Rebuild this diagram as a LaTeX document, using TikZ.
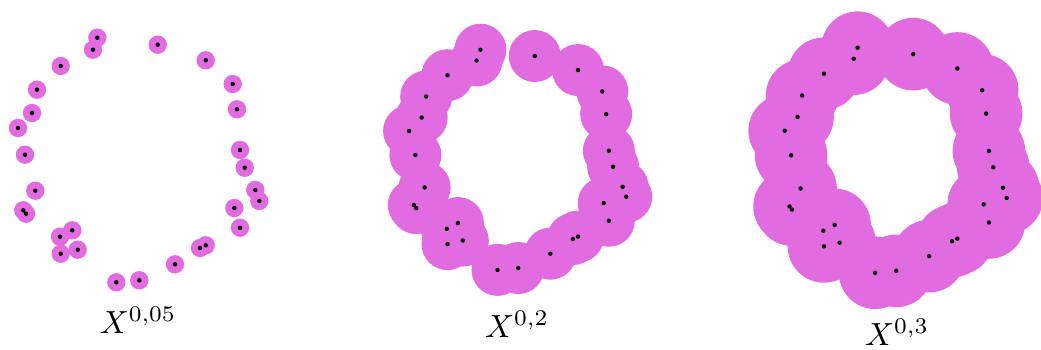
\documentclass[tikz,border=0pt]{standalone}
\usepackage{graphicx}
\definecolor{ballcol}{RGB}{224,108,224}
\tikzset{
  ball/.style={fill=ballcol},
  dot/.style={fill=black},
  lab/.style={anchor=base, inner sep=0pt}
}
\def\pts{-41.4/-122.3, -45.7/-110.3, 19/-115.3, -78/-94, 67/-99.7, -101.7/-70.3, 94/-76, -106.7/-47, 98.3/-50.7, -120.7/-32, -113.7/-5.3, 101.3/-10, 106/7.7, -103.4/30.7, 116.6/30, 120.6/41, -115.4/50.3, -112.7/53.7, 95.6/48, 101.3/67.7, -66.4/70.3, -78.7/76.7, -61/89.7, -78/93.7, 67/85.3, 61.3/88, 36.3/104.3, 0.6/120.3, -22.4/122.3}
\begin{document}
\begin{tikzpicture}[x=1pt,y=-1pt]
\useasboundingbox (0,0) rectangle (1041,350);
% panel data: cx, cy, scale, ball radius
\foreach \cx/\cy/\s/\r in {138.7/160/1/9.2, 517.7/159.8/0.9/26, 895.7/160.2/0.92/36.3}{
  \foreach \x/\y in \pts {
    \fill[ball] ({\cx+\s*\x},{\cy+\s*\y}) circle[radius=\r];
  }
  \foreach \x/\y in \pts {
    \fill[dot] ({\cx+\s*\x},{\cy+\s*\y}) circle[radius=2.2];
  }
}
\node[lab] (lab1) at (138,333) {\scalebox{3.2}{$X^{0,05}$}};
\node[lab] (lab2) at (517,337.5) {\scalebox{3.2}{$X^{0,2}$}};
\node[lab] (lab3) at (897,345) {\scalebox{3.2}{$X^{0,3}$}};
\end{tikzpicture}
\end{document}
